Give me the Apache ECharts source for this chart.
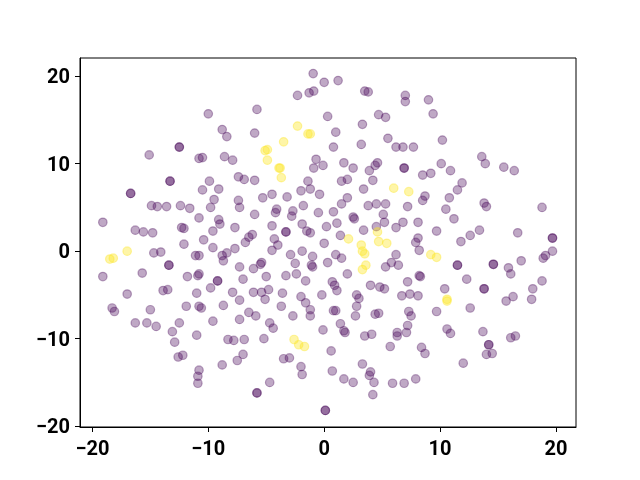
<!DOCTYPE html>
<html>
<head>
<meta charset="utf-8">
<script src="https://cdn.jsdelivr.net/npm/echarts@6/dist/echarts.min.js"></script>
<style>
  html, body { margin: 0; padding: 0; background: #fff; }
  #chart { width: 640px; height: 480px; }
</style>
</head>
<body>
<div id="chart"></div>
<script>
  // tick positions on both axes
  var xTicks = [-20, -10, 0, 10, 20];
  var yTicks = [-20, -10, 0, 10, 20];

  // class 0 (dark purple)
  var purpleTopLeft = [
    [-12.5, 11.9], [-12.5, 11.9], [-15.1, 11.0], [-10.8, 10.6], [-10.5, 10.7], [-13.3, 8.0], [-13.3, 8.0],
    [-0.95, 20.3], [0.0, 19.3], [-2.3, 17.8], [-1.3, 18.1], [-0.9, 18.3], [-10.0, 15.7], [-5.8, 16.2],
    [0.3, 15.4], [-8.8, 13.9], [-8.4, 13.1], [-6.0, 13.5], [-8.6, 10.8], [-7.9, 10.4], [-0.7, 10.5],
    [-0.1, 9.8], [-0.9, 9.5], [-7.4, 8.5], [-6.9, 8.2], [-6.0, 8.1], [-9.9, 8.0], [-1.4, 8.0]
  ];
  var purpleTopRight = [
    [1.2, 19.5], [3.5, 18.3], [3.8, 18.2], [7.0, 17.8], [7.0, 17.1], [9.0, 17.3], [9.4, 15.7], [4.7, 15.6],
    [5.3, 15.3], [3.3, 14.5], [1.0, 13.6], [5.5, 12.9], [3.2, 12.2], [0.8, 11.9], [6.2, 11.9], [6.8, 11.9],
    [7.7, 11.9], [10.2, 12.7], [1.7, 10.1], [2.5, 9.5], [4.6, 10.1], [4.4, 9.8], [6.9, 9.5], [6.9, 9.5],
    [3.9, 9.2], [10.1, 10.0], [10.9, 9.2], [8.5, 8.7], [9.2, 8.9], [2.0, 8.2], [1.5, 8.0], [4.2, 8.1],
    [13.6, 10.8], [13.9, 10.0], [15.5, 9.6], [16.4, 9.2], [11.9, 7.8]
  ];
  var purpleMidLeft = [
    [-16.7, 6.6], [-16.7, 6.6], [-10.5, 7.0], [-14.9, 5.2], [-14.4, 5.1], [-13.6, 5.1], [-12.4, 5.2],
    [-11.6, 4.9], [-19.1, 3.3], [-16.3, 2.4], [-15.6, 2.2], [-14.8, 2.1], [-12.3, 2.7], [-12.1, 2.6],
    [-10.8, 3.8], [-12.1, 0.8], [-10.4, 1.3], [-14.7, -0.2], [-14.1, -0.1], [-11.1, -0.5], [-10.8, -0.5],
    [-13.4, -1.6], [-13.4, -1.6], [-19.1, -2.9], [-15.7, -2.5], [-11.8, -2.9], [-10.9, -2.8], [-10.8, -2.6],
    [-17.0, -4.9], [-13.9, -4.5], [-13.5, -4.4], [-11.0, -4.8]
  ];
  var purpleLowLeft = [
    [-18.3, -6.5], [-18.1, -6.9], [-15.0, -6.7], [-11.9, -6.3], [-10.8, -6.3], [-10.6, -6.5], [-16.3, -8.2],
    [-15.3, -8.2], [-14.5, -8.6], [-12.5, -8.2], [-13.1, -9.2], [-12.9, -10.4], [-11.0, -9.6], [-12.6, -12.1],
    [-12.2, -11.9], [-10.8, -13.6], [-10.9, -14.3], [-10.9, -15.1]
  ];
  var purpleCentre = [
    [-9.1, 7.1], [-9.5, 5.9], [-9.8, 5.0], [-7.4, 5.8], [-7.3, 5.0], [-5.3, 6.1], [-4.5, 6.5], [-3.2, 6.2],
    [-2.0, 6.9], [-1.2, 7.1], [-0.4, 6.5], [-1.8, 5.2], [-4.1, 4.8], [-4.2, 4.4], [-2.7, 4.6], [-2.8, 4.0],
    [-6.0, 4.2], [-0.5, 4.4], [-9.1, 3.6], [-9.0, 3.1], [-7.7, 2.7], [-9.6, 2.3], [-4.5, 2.9], [-3.3, 2.2],
    [-3.3, 2.2], [-1.9, 3.1], [-1.5, 2.3], [-1.2, 2.1], [0.2, 2.8], [-6.2, 1.9], [-6.5, 1.6], [-6.8, 1.0],
    [-4.3, 1.4], [-4.0, 0.7], [-4.5, 0.1], [-9.6, 0.4], [-7.7, 0.3], [-8.4, -0.2], [-8.8, -0.5], [-8.7, -1.1],
    [-2.9, -0.4], [-1.9, 0.0], [-1.0, -0.6], [0.0, 0.9], [0.3, -1.3], [-2.5, -1.4], [-1.1, -1.6], [-1.0, -1.8],
    [-5.4, -1.3], [-5.5, -1.5], [-6.1, -2.0], [-7.3, -1.8], [-5.0, -2.9], [-3.3, -2.8], [-2.4, -2.6],
    [-7.0, -3.2], [-9.2, -3.4], [-9.2, -3.4], [-1.6, -3.4], [-9.8, -4.2], [-7.9, -4.7], [-6.1, -4.7],
    [-5.4, -4.7], [-4.8, -4.4], [-5.1, -5.5], [-3.6, -4.8], [-2.0, -5.2], [-1.6, -5.9], [-0.2, -5.0],
    [-7.3, -5.6], [-8.7, -6.2]
  ];
  var purpleLowMid = [
    [-3.7, -6.3], [-1.2, -6.7], [-1.2, -7.4], [-9.6, -8.0], [-7.3, -7.8], [-6.5, -7.0], [-5.9, -7.4],
    [-4.7, -8.2], [-4.4, -8.8], [-2.7, -7.4], [-0.1, -9.0], [-8.3, -10.1], [-7.8, -10.2], [-6.9, -10.1],
    [-5.2, -10.0], [-7.0, -11.8], [-7.5, -12.5], [-8.8, -13.0], [-3.5, -12.3], [-3.0, -12.2], [-2.0, -13.2],
    [-1.9, -14.1], [-4.7, -15.0], [-5.8, -16.2], [-5.8, -16.2], [0.1, -18.2], [0.1, -18.2]
  ];
  var purpleLowRight = [
    [0.8, -6.8], [1.0, -6.8], [2.8, -6.3], [2.7, -7.4], [4.4, -7.2], [4.7, -7.1], [7.3, -6.9], [7.5, -7.4],
    [9.7, -6.9], [1.4, -8.3], [1.7, -9.1], [1.8, -9.3], [3.5, -9.7], [4.1, -9.5], [6.3, -9.3], [6.3, -9.7],
    [7.1, -9.3], [7.2, -8.5], [10.6, -8.9], [10.9, -9.4], [0.6, -11.4], [5.7, -10.9], [8.4, -11.0],
    [8.7, -11.7], [3.3, -12.9], [0.7, -13.7], [4.0, -13.8], [3.9, -14.2], [4.3, -15.0], [1.7, -14.6],
    [2.5, -15.0], [5.9, -15.1], [6.9, -15.1], [7.9, -14.6], [4.2, -16.4],
    [12.6, -6.5], [13.7, -9.2], [16.1, -9.9], [16.5, -9.7], [14.2, -10.7], [14.2, -10.7], [14.0, -11.8],
    [14.5, -11.7], [12.0, -12.8]
  ];
  var purpleMidRight = [
    [3.4, 7.1], [8.7, 6.3], [8.5, 5.8], [10.8, 6.1], [2.0, 6.1], [1.5, 5.4], [0.8, 4.5], [3.8, 5.2],
    [4.5, 5.4], [5.3, 5.4], [7.2, 5.1], [10.5, 4.8], [2.5, 3.9], [2.6, 3.7], [5.1, 4.2], [1.1, 3.2],
    [5.2, 3.3], [4.5, 2.8], [3.4, 2.4], [6.2, 2.7], [6.8, 3.3], [8.1, 3.3], [11.2, 3.7], [9.7, 2.3],
    [1.4, 1.8], [8.1, 1.5], [7.9, 1.0], [8.2, 0.1], [1.0, -0.4], [1.5, -0.8], [6.2, -0.4], [5.8, -1.3],
    [5.3, -1.8], [6.4, -1.6], [2.0, -2.6], [8.2, -2.8], [8.3, -2.9], [0.7, -3.5], [0.9, -3.9], [1.1, -4.5],
    [4.0, -3.9], [4.8, -4.1], [5.2, -4.3], [7.2, -3.5], [10.4, -4.3], [2.8, -5.0], [3.0, -5.4], [6.7, -5.1],
    [7.4, -4.9], [8.1, -5.1]
  ];
  var purpleFarRight = [
    [11.5, 7.0], [13.8, 5.5], [14.0, 5.1], [18.8, 5.0], [13.4, 2.4], [12.6, 1.8], [11.8, 1.1], [16.7, 2.1],
    [19.7, 1.5], [19.7, 1.5], [19.7, 0.0], [19.1, -0.5], [18.9, -0.8], [11.5, -1.6], [11.5, -1.6],
    [14.6, -1.5], [14.6, -1.5], [17.0, -1.1], [15.9, -1.9], [16.1, -2.6], [12.3, -3.2], [13.8, -4.3],
    [13.8, -4.3], [18.8, -3.4], [18.0, -4.3], [16.3, -5.2], [15.7, -5.7], [17.9, -5.5]
  ];

  // class 1 (yellow)
  var yellowPts = [
    [-2.3, 14.3], [-1.4, 13.4], [-1.2, 13.4], [-3.5, 12.5], [-5.1, 11.5], [-4.9, 11.6], [-4.9, 10.4],
    [-3.9, 9.5], [-3.8, 9.5], [-3.7, 8.4], [-17.0, 0.0], [-18.5, -0.9], [-18.2, -0.8], [-2.6, -10.1],
    [-2.2, -10.7], [-1.7, -10.9], [6.0, 7.2], [7.3, 6.8], [4.6, 2.2], [2.1, 1.4], [4.7, 1.1], [5.4, 0.9],
    [3.2, 0.7], [3.3, 0.0], [3.5, -0.3], [9.2, -0.4], [9.7, -0.7], [3.6, -1.6], [3.3, -2.1],
    [10.6, -5.5], [10.6, -5.7]
  ];

  var purplePts = [].concat(purpleTopLeft, purpleTopRight, purpleMidLeft, purpleLowLeft,
    purpleCentre, purpleLowMid, purpleLowRight, purpleMidRight, purpleFarRight);

  var myChart = echarts.init(document.getElementById('chart'));

  function minus(v) {
    return String(v).replace('-', '\u2212');
  }

  var font = 'Roboto, "DejaVu Sans", sans-serif';

  var option = {
    animation: false,
    backgroundColor: '#fff',
    grid: {
      left: 80,
      right: 64,
      top: 58,
      bottom: 53,
      show: true,
      borderColor: '#000',
      borderWidth: 1
    },
    xAxis: {
      type: 'value',
      min: -21.07,
      max: 21.73,
      splitLine: { show: false },
      axisLine: { show: true, onZero: false, lineStyle: { color: '#000', width: 1 } },
      axisTick: { show: true, inside: false, length: 5, customValues: xTicks, lineStyle: { color: '#000' } },
      axisLabel: {
        customValues: xTicks,
        color: '#000',
        fontSize: 20,
        fontWeight: 'bold',
        fontFamily: font,
        margin: 13,
        formatter: minus
      }
    },
    yAxis: {
      type: 'value',
      min: -20.1,
      max: 22.08,
      splitLine: { show: false },
      axisLine: { show: true, onZero: false, lineStyle: { color: '#000', width: 1 } },
      axisTick: { show: true, inside: false, length: 5, customValues: yTicks, lineStyle: { color: '#000' } },
      axisLabel: {
        customValues: yTicks,
        color: '#000',
        fontSize: 20,
        fontWeight: 'bold',
        fontFamily: font,
        margin: 10,
        formatter: function (v) {
          return '{t|' + minus(v) + '}';
        },
        rich: {
          t: {
            color: '#000',
            fontSize: 20,
            fontWeight: 'bold',
            fontFamily: font,
            padding: [4, 0, 0, 0]
          }
        }
      }
    },
    series: [
      {
        name: 'class 0',
        type: 'scatter',
        data: purplePts,
        symbol: 'circle',
        symbolSize: 8.5,
        itemStyle: { color: '#440154', borderColor: '#440154', borderWidth: 1.2, opacity: 0.34 }
      },
      {
        name: 'class 1',
        type: 'scatter',
        data: yellowPts,
        symbol: 'circle',
        symbolSize: 8.5,
        itemStyle: { color: '#fde725', borderColor: '#fde725', borderWidth: 1.2, opacity: 0.4 }
      }
    ]
  };

  myChart.setOption(option);
</script>
</body>
</html>
